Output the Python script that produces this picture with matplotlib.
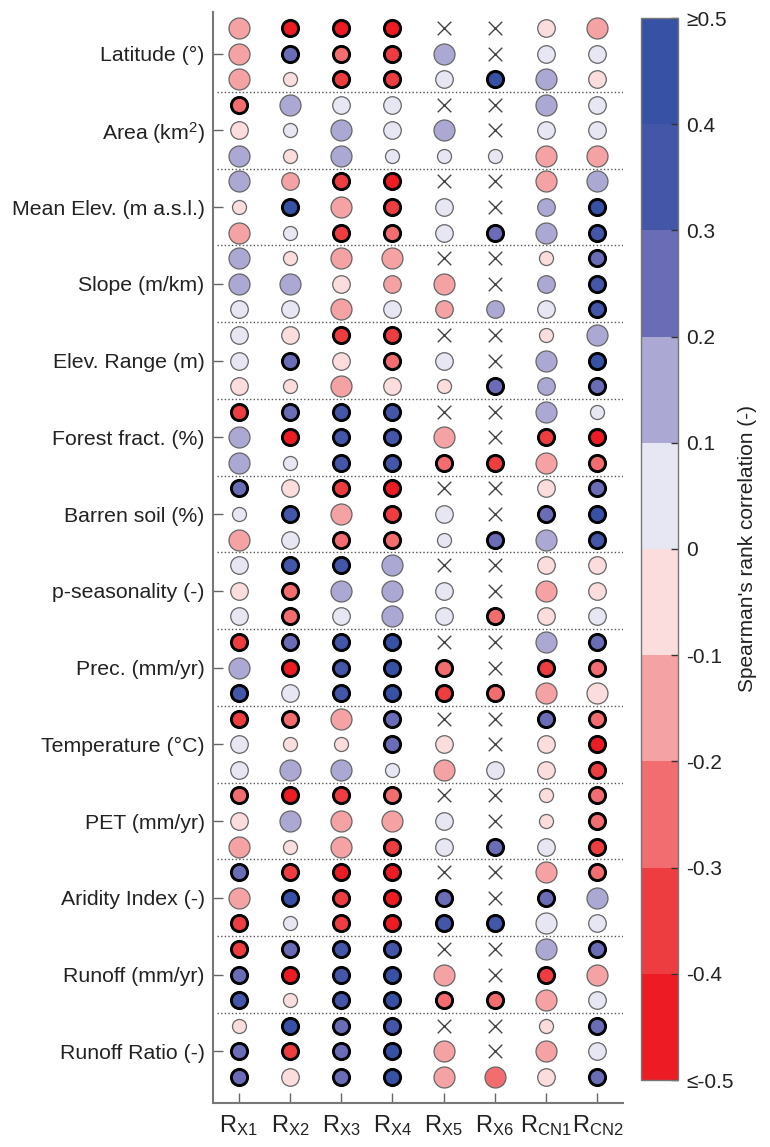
import numpy as np
import matplotlib
matplotlib.use("Agg")
import matplotlib.pyplot as plt
from matplotlib.colors import ListedColormap, BoundaryNorm
from matplotlib.cm import ScalarMappable

plt.rcParams['font.family'] = ['Liberation Sans', 'DejaVu Sans']
plt.rcParams['mathtext.fontset'] = 'custom'
plt.rcParams['mathtext.rm'] = 'Liberation Sans'
plt.rcParams['mathtext.it'] = 'Liberation Sans:italic'
plt.rcParams['mathtext.bf'] = 'Liberation Sans:bold'

nan = np.nan

# ---------------- data ----------------
columns = [r"R$_{\mathrm{X1}}$", r"R$_{\mathrm{X2}}$", r"R$_{\mathrm{X3}}$", r"R$_{\mathrm{X4}}$",
           r"R$_{\mathrm{X5}}$", r"R$_{\mathrm{X6}}$", r"R$_{\mathrm{CN1}}$", r"R$_{\mathrm{CN2}}$"]

groups = ["Latitude (°)", r"Area (km$^{2}$)", "Mean Elev. (m a.s.l.)", "Slope (m/km)",
          "Elev. Range (m)", "Forest fract. (%)", "Barren soil (%)", "p-seasonality (-)",
          "Prec. (mm/yr)", "Temperature (°C)", "PET (mm/yr)", "Aridity Index (-)",
          "Runoff (mm/yr)", "Runoff Ratio (-)"]

# Spearman's rank correlation (nan = not computed, drawn as x)
rho = [
    [-0.15, -0.45, -0.45, -0.45, nan, nan, -0.05, -0.15],
    [-0.15, 0.25, -0.25, -0.35, 0.15, nan, 0.05, 0.05],
    [-0.15, -0.05, -0.35, -0.35, 0.05, 0.45, 0.15, -0.05],
    [-0.25, 0.15, 0.05, 0.05, nan, nan, 0.15, 0.05],
    [-0.05, 0.05, 0.15, 0.05, 0.15, nan, 0.05, 0.05],
    [0.15, -0.05, 0.15, 0.05, 0.05, 0.05, -0.15, -0.15],
    [0.15, -0.15, -0.35, -0.45, nan, nan, -0.15, 0.15],
    [-0.05, 0.45, -0.15, -0.35, 0.05, nan, 0.15, 0.45],
    [-0.15, 0.05, -0.35, -0.25, 0.05, 0.25, 0.15, 0.35],
    [0.15, -0.05, -0.15, -0.15, nan, nan, -0.05, 0.25],
    [0.15, 0.15, -0.05, -0.15, -0.15, nan, 0.15, 0.35],
    [0.05, 0.05, -0.15, 0.05, -0.15, 0.15, 0.05, 0.35],
    [0.05, -0.05, -0.35, -0.35, nan, nan, -0.05, 0.15],
    [0.05, 0.25, -0.05, -0.25, 0.05, nan, 0.15, 0.45],
    [-0.05, -0.05, -0.15, -0.05, -0.05, 0.25, 0.15, 0.25],
    [-0.35, 0.25, 0.35, 0.35, nan, nan, 0.15, 0.05],
    [0.15, -0.45, 0.35, 0.35, -0.15, nan, -0.35, -0.45],
    [0.15, 0.05, 0.35, 0.35, -0.25, -0.35, -0.15, -0.25],
    [0.25, -0.05, -0.35, -0.45, nan, nan, -0.05, 0.25],
    [0.05, 0.35, -0.15, -0.35, 0.05, nan, 0.25, 0.45],
    [-0.15, 0.05, -0.25, -0.25, 0.05, 0.25, 0.15, 0.35],
    [0.05, 0.35, 0.35, 0.15, nan, nan, -0.05, -0.05],
    [-0.05, -0.25, 0.15, 0.15, 0.05, nan, -0.15, -0.05],
    [0.05, -0.25, 0.05, 0.15, 0.05, -0.25, -0.05, 0.05],
    [-0.35, 0.25, 0.35, 0.45, nan, nan, 0.15, 0.25],
    [0.15, -0.45, 0.35, 0.45, -0.25, nan, -0.35, -0.25],
    [0.35, 0.05, 0.35, 0.45, -0.35, -0.25, -0.15, -0.05],
    [-0.35, -0.25, -0.15, 0.25, nan, nan, 0.25, -0.25],
    [0.05, -0.05, -0.05, 0.25, -0.05, nan, -0.05, -0.45],
    [0.05, 0.15, 0.15, 0.05, -0.15, 0.05, -0.05, -0.35],
    [-0.25, -0.45, -0.35, -0.25, nan, nan, -0.05, -0.25],
    [-0.05, 0.15, -0.15, -0.15, 0.05, nan, -0.05, -0.25],
    [-0.15, -0.05, -0.15, -0.35, 0.05, 0.25, 0.05, -0.35],
    [0.25, -0.35, -0.45, -0.45, nan, nan, -0.15, -0.25],
    [-0.15, 0.45, -0.35, -0.45, 0.25, nan, 0.25, 0.15],
    [-0.35, 0.05, -0.35, -0.45, 0.35, 0.35, 0.05, 0.05],
    [-0.35, 0.25, 0.35, 0.35, nan, nan, 0.15, 0.25],
    [0.25, -0.45, 0.35, 0.45, -0.15, nan, -0.35, -0.15],
    [0.35, -0.05, 0.35, 0.45, -0.25, -0.25, -0.15, 0.05],
    [-0.05, 0.45, 0.25, 0.35, nan, nan, -0.05, 0.25],
    [0.25, -0.35, 0.25, 0.45, -0.15, nan, -0.15, 0.05],
    [0.25, -0.05, 0.25, 0.45, -0.15, -0.25, -0.05, 0.25],
]

# significant correlation (bold outline)
signif = [
    [0, 1, 1, 1, 0, 0, 0, 0], [0, 1, 1, 1, 0, 0, 0, 0], [0, 0, 1, 1, 0, 1, 0, 0],
    [1, 0, 0, 0, 0, 0, 0, 0], [0, 0, 0, 0, 0, 0, 0, 0], [0, 0, 0, 0, 0, 0, 0, 0],
    [0, 0, 1, 1, 0, 0, 0, 0], [0, 1, 0, 1, 0, 0, 0, 1], [0, 0, 1, 1, 0, 1, 0, 1],
    [0, 0, 0, 0, 0, 0, 0, 1], [0, 0, 0, 0, 0, 0, 0, 1], [0, 0, 0, 0, 0, 0, 0, 1],
    [0, 0, 1, 1, 0, 0, 0, 0], [0, 1, 0, 1, 0, 0, 0, 1], [0, 0, 0, 0, 0, 1, 0, 1],
    [1, 1, 1, 1, 0, 0, 0, 0], [0, 1, 1, 1, 0, 0, 1, 1], [0, 0, 1, 1, 1, 1, 0, 1],
    [1, 0, 1, 1, 0, 0, 0, 1], [0, 1, 0, 1, 0, 0, 1, 1], [0, 0, 1, 1, 0, 1, 0, 1],
    [0, 1, 1, 0, 0, 0, 0, 0], [0, 1, 0, 0, 0, 0, 0, 0], [0, 1, 0, 0, 0, 1, 0, 0],
    [1, 1, 1, 1, 0, 0, 0, 1], [0, 1, 1, 1, 1, 0, 1, 1], [1, 0, 1, 1, 1, 1, 0, 0],
    [1, 1, 0, 1, 0, 0, 1, 1], [0, 0, 0, 1, 0, 0, 0, 1], [0, 0, 0, 0, 0, 0, 0, 1],
    [1, 1, 1, 1, 0, 0, 0, 1], [0, 0, 0, 0, 0, 0, 0, 1], [0, 0, 0, 1, 0, 1, 0, 1],
    [1, 1, 1, 1, 0, 0, 0, 1], [0, 1, 1, 1, 1, 0, 1, 0], [1, 0, 1, 1, 1, 1, 0, 0],
    [1, 1, 1, 1, 0, 0, 0, 1], [1, 1, 1, 1, 0, 0, 1, 0], [1, 0, 1, 1, 1, 1, 0, 0],
    [0, 1, 1, 1, 0, 0, 0, 1], [1, 1, 1, 1, 0, 0, 0, 0], [1, 0, 1, 1, 0, 0, 0, 1],
]

# relative circle size class of non-significant circles (1 small, 2 medium, 3 large)
size_class = [
    [3, 0, 0, 0, 0, 0, 2, 3], [3, 0, 0, 0, 3, 0, 2, 2], [3, 1, 0, 0, 2, 0, 3, 2],
    [0, 3, 2, 2, 0, 0, 3, 2], [2, 1, 3, 2, 3, 0, 2, 2], [3, 1, 3, 1, 1, 1, 3, 3],
    [3, 2, 0, 0, 0, 0, 3, 3], [1, 0, 3, 0, 2, 0, 2, 0], [3, 1, 0, 0, 2, 0, 3, 0],
    [3, 1, 3, 3, 0, 0, 1, 0], [3, 3, 2, 2, 3, 0, 2, 0], [2, 2, 3, 2, 2, 2, 2, 0],
    [2, 2, 0, 0, 0, 0, 1, 3], [2, 0, 2, 0, 2, 0, 3, 0], [2, 1, 3, 2, 1, 0, 2, 0],
    [0, 0, 0, 0, 0, 0, 3, 1], [3, 0, 0, 0, 3, 0, 0, 0], [3, 1, 0, 0, 0, 0, 3, 0],
    [0, 2, 0, 0, 0, 0, 2, 0], [1, 0, 3, 0, 2, 0, 0, 0], [3, 2, 0, 0, 1, 0, 3, 0],
    [2, 0, 0, 3, 0, 0, 2, 2], [2, 0, 3, 3, 2, 0, 3, 2], [2, 0, 2, 3, 2, 0, 2, 2],
    [0, 0, 0, 0, 0, 0, 3, 0], [3, 0, 0, 0, 0, 0, 0, 0], [0, 2, 0, 0, 0, 0, 3, 3],
    [0, 0, 3, 0, 0, 0, 0, 0], [2, 1, 1, 0, 2, 0, 2, 0], [2, 3, 3, 1, 3, 2, 2, 0],
    [0, 0, 0, 0, 0, 0, 1, 0], [2, 3, 3, 3, 2, 0, 1, 0], [3, 1, 3, 0, 2, 0, 2, 0],
    [0, 0, 0, 0, 0, 0, 3, 0], [3, 0, 0, 0, 0, 0, 0, 3], [0, 1, 0, 0, 0, 0, 3, 2],
    [0, 0, 0, 0, 0, 0, 3, 0], [0, 0, 0, 0, 3, 0, 0, 3], [0, 1, 0, 0, 0, 0, 3, 2],
    [1, 0, 0, 0, 0, 0, 1, 0], [0, 0, 0, 0, 3, 0, 3, 2], [0, 2, 0, 0, 3, 3, 2, 0],
]

cbar_ticks = [-0.5, -0.4, -0.3, -0.2, -0.1, 0.0, 0.1, 0.2, 0.3, 0.4, 0.5]
cbar_ticklabels = ["≤-0.5", "-0.4", "-0.3", "-0.2", "-0.1", "0", "0.1", "0.2", "0.3", "0.4", "≥0.5"]

# ---------------- styling ----------------
bin_colors = ["#ED1C24", "#EE3D40", "#F26D70", "#F5A2A5", "#FCDDDE",
              "#E7E6F3", "#ABA9D3", "#6A6DB5", "#4456A8", "#3752A4"]
cmap = ListedColormap(bin_colors)
norm = BoundaryNorm(np.linspace(-0.5, 0.5, 11), cmap.N)
size_pts = {1: 102, 2: 160, 3: 228}
bold_size = 136

W, H = 770, 1147
fig = plt.figure(figsize=(W / 100, H / 100), dpi=100)
ax = fig.add_axes([213 / W, 1 - 1103 / H, 410 / W, (1103 - 12) / H])

R = np.array(rho, dtype=float)
S = np.array(signif)
C = np.array(size_class)
nrow, ncol = R.shape
rows = np.arange(1, nrow + 1)
cols = np.arange(1, ncol + 1)

# dotted separators between groups
for g in range(1, len(groups)):
    ax.axhline(3 * g + 0.5, xmin=0.01, xmax=1.0, color="#555555", lw=1.0,
               linestyle=(0, (1, 1.6)), zorder=1)

for i in range(nrow):
    for j in range(ncol):
        v = R[i, j]
        x, y = cols[j], rows[i]
        if np.isnan(v):
            ax.scatter([x], [y], marker="x", s=95, c="#444444", linewidths=1.0, zorder=3)
        elif S[i, j]:
            ax.scatter([x], [y], s=bold_size, c=[cmap(norm(v))], edgecolors="black",
                       linewidths=2.1, zorder=4)
        else:
            ax.scatter([x], [y], s=size_pts[C[i, j]], c=[cmap(norm(v))],
                       edgecolors="#666666", linewidths=0.9, zorder=3)

ax.set_xlim(0.5, 8.5)
ax.set_ylim(43.02, 0.375)

ax.set_xticks(cols)
ax.set_xticklabels(columns, fontsize=17, color="#222222")
ax.set_yticks([3 * g + 2 for g in range(len(groups))])
ax.set_yticklabels(groups, fontsize=15.3, color="#222222")
ax.tick_params(axis="both", direction="in", length=7, width=1.0, color="#666666")
ax.tick_params(axis="x", pad=7)
ax.tick_params(axis="y", pad=6)

for side in ["top", "right"]:
    ax.spines[side].set_visible(False)
for side in ["left", "bottom"]:
    ax.spines[side].set_color("#777777")
    ax.spines[side].set_linewidth(1.5)

# colorbar
cax = fig.add_axes([641 / W, 1 - 1080 / H, 37 / W, (1080 - 18) / H])
cb = fig.colorbar(ScalarMappable(norm=norm, cmap=cmap), cax=cax, ticks=cbar_ticks,
                  drawedges=False)
cb.set_ticklabels(cbar_ticklabels)
cb.outline.set_edgecolor("#777777")
cb.outline.set_linewidth(1.0)
cax.tick_params(direction="in", length=5, width=1.0, color="#333333",
                labelsize=15, labelcolor="#222222", pad=6)
cb.set_label("Spearman's rank correlation (-)", fontsize=15, color="#222222", labelpad=3)

fig.savefig("out.png", dpi=100)
